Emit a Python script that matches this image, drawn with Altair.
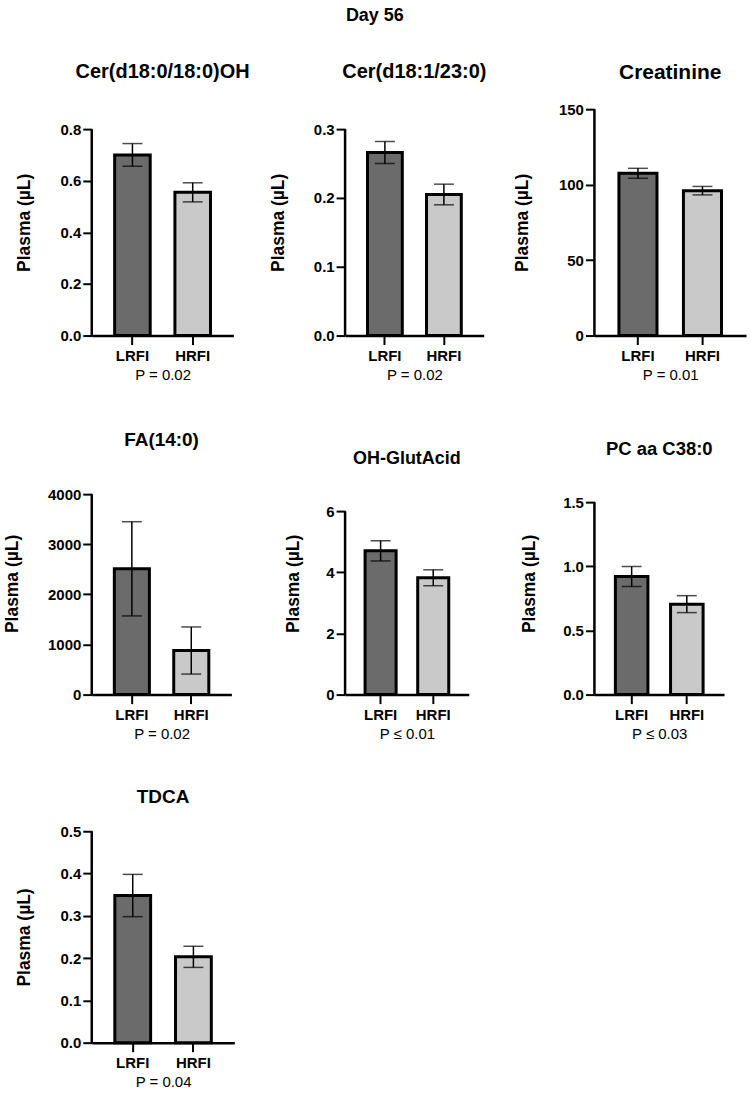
import altair as alt
import pandas as pd

# ---- data -------------------------------------------------------------
metabolites = ["Cer(d18:0/18:0)OH", "Cer(d18:1/23:0)", "Creatinine",
               "FA(14:0)", "OH-GlutAcid", "PC aa C38:0", "TDCA"]
groups = ["LRFI", "HRFI"]
lrfi_mean = [0.70, 0.266, 107.5, 2510, 4.70, 0.92, 0.348]
lrfi_sem = [0.044, 0.016, 3.3, 940, 0.33, 0.078, 0.050]
hrfi_mean = [0.555, 0.205, 96.0, 880, 3.82, 0.705, 0.203]
hrfi_sem = [0.037, 0.015, 2.8, 470, 0.26, 0.066, 0.025]
p_text = ["P = 0.02", "P = 0.02", "P = 0.01", "P = 0.02",
          "P \u2264 0.01", "P \u2264 0.03", "P = 0.04"]
tick_top = [0.8, 0.3, 150, 4000, 6, 1.5, 0.5]
tick_step = [0.2, 0.1, 50, 1000, 2, 0.5, 0.1]
tick_fmt = [".1f", ".1f", "d", "d", "d", ".1f", ".1f"]

# ---- layout (pixels) --------------------------------------------------
plot_w = [142, 139, 152, 140, 124, 130, 143]
plot_h = [227, 227, 227, 223, 223, 223, 212]
tick_span = [207, 207, 227, 201, 184, 193, 212]   # distance from 0 to top tick
title_size = [20, 20, 21, 19, 18, 18.5, 19]
title_offset = [27, 27, 19, 22, 4, 14, 17]
ytitle_pad = [27, 26, 27, 26, 23, 24, 27]

FONT = "Liberation Sans, Arial, sans-serif"
DARK = "#6b6b6b"
LIGHT = "#c9c9c9"
Y_TITLE = "Plasma (\u00b5L)"


def panel(i):
    df = pd.DataFrame({
        "group": groups,
        "mean": [lrfi_mean[i], hrfi_mean[i]],
        "sem": [lrfi_sem[i], hrfi_sem[i]],
    })
    df["lo"] = df["mean"] - df["sem"]
    df["hi"] = df["mean"] + df["sem"]

    top = tick_top[i]
    dmax = top * plot_h[i] / tick_span[i]
    n = int(round(top / tick_step[i]))
    values = [round(k * tick_step[i], 6) for k in range(n + 1)]

    x_axis = alt.Axis(
        domain=True, domainColor="black", domainWidth=2.5,
        ticks=True, tickSize=9, tickWidth=2, tickColor="black",
        labelAngle=0, labelFont=FONT, labelFontSize=15, labelFontWeight="bold",
        labelColor="black", labelPadding=4,
        titleFont=FONT, titleFontSize=15, titleFontWeight="normal",
        titleColor="black", titlePadding=4,
    )
    y_axis = alt.Axis(
        values=values, format=tick_fmt[i], domain=False, grid=False,
        ticks=True, tickSize=9, tickWidth=2, tickColor="black",
        labelFont=FONT, labelFontSize=15, labelFontWeight="bold",
        labelColor="black", labelPadding=2, labelFlush=False, labelOverlap=False,
        titleFont=FONT, titleFontSize=17.5, titleFontWeight="bold",
        titleColor="black", titlePadding=ytitle_pad[i],
    )
    x_scale = alt.Scale(paddingInner=0.41, paddingOuter=0.38)
    y_scale = alt.Scale(domain=[0, dmax], nice=False, zero=True)

    def xenc(axis=None):
        if axis is None:
            return alt.X("group:N", sort=groups, scale=x_scale, title=p_text[i])
        return alt.X("group:N", sort=groups, scale=x_scale, title=p_text[i], axis=axis)

    base = alt.Chart(df)
    bars = base.mark_bar(stroke="black", strokeWidth=3).encode(
        x=xenc(x_axis),
        y=alt.Y("mean:Q", scale=y_scale, title=Y_TITLE, axis=y_axis),
        color=alt.Color("group:N", scale=alt.Scale(domain=groups, range=[DARK, LIGHT]),
                        legend=None),
    )
    err = base.mark_rule(color="black", strokeWidth=1.5).encode(
        x=xenc(), y=alt.Y("lo:Q", title=Y_TITLE), y2="hi:Q",
    )
    cap_hi = base.mark_tick(color="black", thickness=1.5, size=20).encode(
        x=xenc(), y=alt.Y("hi:Q", title=Y_TITLE),
    )
    cap_lo = base.mark_tick(color="black", thickness=1.5, size=20).encode(
        x=xenc(), y=alt.Y("lo:Q", title=Y_TITLE),
    )
    # vertical axis line, from zero up to the highest tick
    yline = alt.Chart(pd.DataFrame({"lo": [0.0], "hi": [float(top)]})).mark_rule(
        color="black", strokeWidth=2.5
    ).encode(x=alt.value(0), y=alt.Y("lo:Q", title=Y_TITLE), y2="hi:Q")

    return alt.layer(bars, err, cap_hi, cap_lo, yline).properties(
        width=plot_w[i], height=plot_h[i],
        title=alt.TitleParams(
            metabolites[i], font=FONT, fontSize=title_size[i], fontWeight="bold",
            color="black", anchor="middle", offset=title_offset[i],
        ),
    )


panels = [panel(i) for i in range(len(metabolites))]

chart = alt.concat(
    *panels, columns=3, spacing={"row": 137, "column": 111}
).properties(
    title=alt.TitleParams("Day 56", font=FONT, fontSize=18, fontWeight="bold",
                          color="black", anchor="middle", frame="bounds", offset=37),
    bounds="flush",
    align="each",
    padding={"left": 3, "top": 6, "right": 4, "bottom": 4},
).configure_view(stroke=None)

chart.save("out.html", embed_options={"renderer": "svg", "actions": False})
